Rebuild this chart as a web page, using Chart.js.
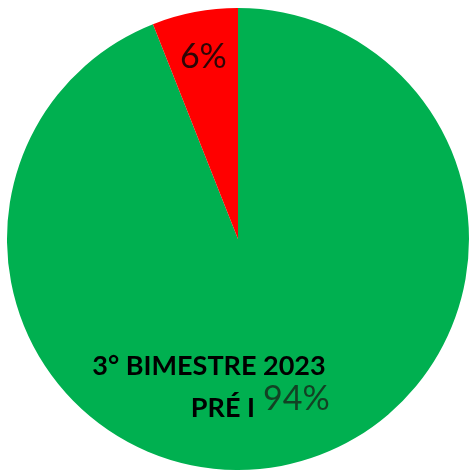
<!DOCTYPE html>
<html>
<head>
<meta charset="utf-8">
<script src="https://cdn.jsdelivr.net/npm/chart.js@4.4.0/dist/chart.umd.min.js"></script>
<style>
  html, body { margin: 0; padding: 0; background: #fff; }
  #box { width: 469px; height: 475px; }
</style>
</head>
<body>
<div id="box"><canvas id="myChart"></canvas></div>
<script>
var labels = ["3° BIMESTRE 2023 PRÉ I", "Outros"]
var values = [94, 6]
var colors = ["#00B050", "#FF0000"]
var titleLines = ["3° BIMESTRE 2023", "PRÉ I"]

// writes the percentages (and the category name on the big slice) on the pie
var sliceLabels = {
  id: "sliceLabels",
  afterDatasetsDraw(chart) {
    var ctx = chart.ctx
    var arcs = chart.getDatasetMeta(0).data
    var total = values.reduce((a, b) => a + b, 0)
    ctx.save()
    ctx.textBaseline = "middle"

    // small slice: value only
    var a = arcs[1]
    var mid = (a.startAngle + a.endAngle) / 2
    var r = a.outerRadius * 0.8
    ctx.fillStyle = "#2e0606"
    ctx.font = "34px Lato"
    ctx.textAlign = "center"
    ctx.fillText(Math.round(values[1] / total * 100) + "%", a.x + Math.cos(mid) * r, a.y + Math.sin(mid) * r)

    // big slice: name + value
    var g = arcs[0]
    var cx = g.x - 30
    var cy = g.y + 145
    ctx.fillStyle = "#000"
    ctx.font = "bold 27px Lato"
    ctx.textAlign = "center"
    ctx.fillText(titleLines[0], cx + 1, cy - 18)
    ctx.textAlign = "right"
    ctx.fillText(titleLines[1], cx + 47, cy + 24)
    ctx.textAlign = "left"
    ctx.fillStyle = "#124224"
    ctx.font = "34px Lato"
    ctx.fillText(Math.round(values[0] / total * 100) + "%", cx + 55, cy + 15)
    ctx.restore()
  }
}

new Chart("myChart", {
  type: "pie",
  data: {
    labels: labels,
    datasets: [{
      backgroundColor: colors,
      borderWidth: 0,
      data: values
    }]
  },
  options: {
    responsive: true,
    maintainAspectRatio: false,
    animation: false,
    layout: { padding: { left: 7, right: 0, top: 8, bottom: 5 } },
    plugins: {
      legend: { display: false },
      tooltip: { enabled: false }
    }
  },
  plugins: [sliceLabels]
})
</script>
</body>
</html>
